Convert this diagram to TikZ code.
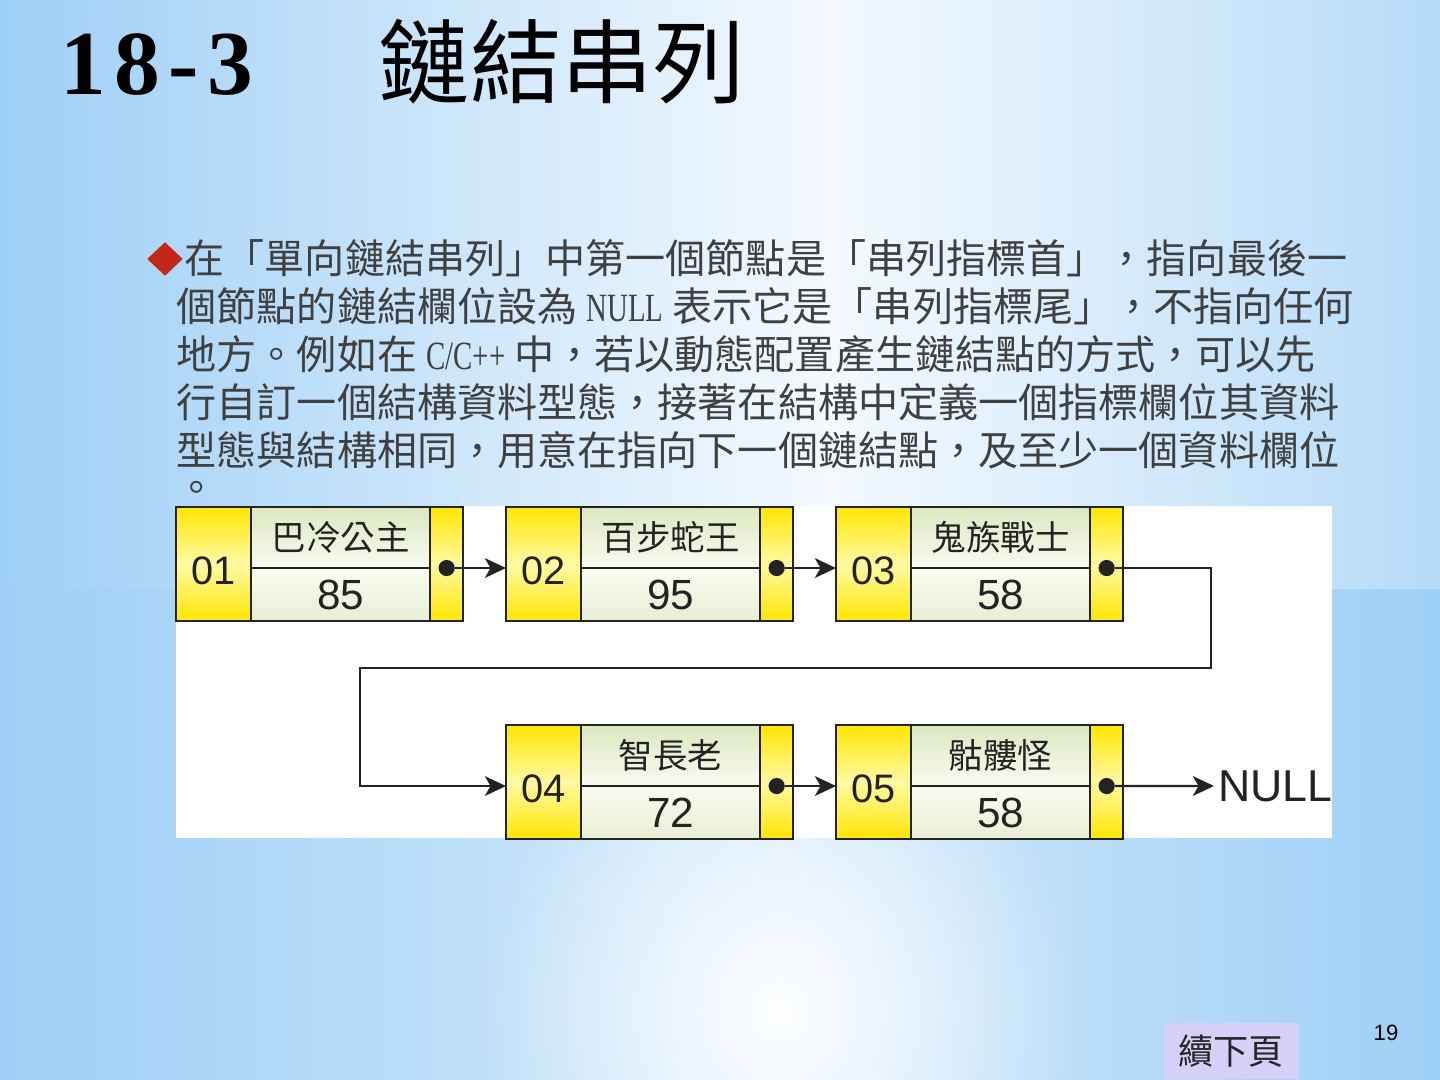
\documentclass[tikz,border=0pt]{standalone}
\usepackage{fontspec}
\setmainfont{Liberation Serif}
\setsansfont{Liberation Sans}
\newfontfamily\cjk{Noto Sans CJK TC}
\newfontfamily\narrowserif[FakeStretch=0.72]{Liberation Serif}
\newfontfamily\titleserif[LetterSpace=9]{Liberation Serif}
\usetikzlibrary{arrows.meta,positioning,shapes.geometric,fadings}
\definecolor{bgblue}{RGB}{158,207,246}
\definecolor{cellyellow}{RGB}{255,230,0}
\definecolor{cellpale}{RGB}{255,249,165}
\definecolor{cellgreen}{RGB}{220,231,192}
\definecolor{cellwhite}{RGB}{249,251,241}
\definecolor{inkgray}{RGB}{35,35,35}
\definecolor{bulletred}{RGB}{196,38,24}
\definecolor{lavender}{RGB}{212,208,248}
\tikzfading[name=glowfade, inner color=transparent!0, outer color=transparent!100]

\begin{document}
\begin{tikzpicture}[
    x=0.01cm, y=-0.01cm,
    cellbase/.style={rectangle, draw=inkgray, line width=0.65pt, outer sep=0pt, inner sep=0pt, text=inkgray, anchor=north west},
    idcell/.style={cellbase, minimum width=0.75cm, minimum height=1.14cm, text height=11.8pt, text depth=0pt, top color=cellyellow, bottom color=cellyellow, middle color=cellpale, font=\sffamily\fontsize{11.3}{13}\selectfont},
    namecell/.style={cellbase, minimum width=1.79cm, minimum height=0.61cm, top color=cellgreen, bottom color=cellwhite, font=\cjk\fontsize{9.8}{12}\selectfont},
    scorecell/.style={cellbase, minimum width=1.79cm, minimum height=0.53cm, top color=cellwhite, bottom color=cellgreen!70, font=\sffamily\fontsize{12}{14}\selectfont},
    ptrcell/.style={cellbase, minimum width=0.33cm, minimum height=1.14cm, top color=cellyellow, bottom color=cellyellow, middle color=cellpale},
    dotmark/.style={circle, fill=inkgray, minimum size=4.6pt, inner sep=0pt, outer sep=0pt},
    link/.style={-{Stealth[length=6pt,width=5.6pt,inset=1.6pt]}, line width=0.65pt, draw=inkgray},
    bodytext/.style={anchor=base west, inner sep=0pt, text=black!75, font=\cjk\fontsize{11.4}{14}\selectfont},
    nulltext/.style={inner sep=1pt, text=inkgray, font=\sffamily\fontsize{12.7}{15}\selectfont}
]

    % --- slide background ---
    \useasboundingbox (0,0) rectangle (1440,1080);
    \fill[bgblue] (0,0) rectangle (1440,1080);
    \shade[left color=bgblue, right color=white!88!bgblue] (0,0) rectangle (830,590);
    \shade[left color=white!88!bgblue, right color=bgblue!75!white] (830,0) rectangle (1440,590);
    \shade[left color=bgblue, right color=bgblue!45!white] (0,590) rectangle (780,1080);
    \shade[left color=bgblue!45!white, right color=bgblue] (780,590) rectangle (1440,1080);
    \fill[white, path fading=glowfade, opacity=0.95] (780,1010) ellipse (300 and 320);

    % --- title ---
    \node[anchor=base west, inner sep=0pt, font=\titleserif\bfseries\fontsize{26}{30}\selectfont] (secnum) at (60,95) {18-3};
    \node[anchor=base west, inner sep=0pt, font=\cjk\fontsize{26}{30}\selectfont] (sectitle) at (378,97) {鏈結串列};

    % --- paragraph ---
    \node[diamond, fill=bulletred, minimum width=0.36cm, minimum height=0.34cm, inner sep=0pt] (bullet) at (165,259) {};
    \node[bodytext] (line1) at (184,274) {在「單向鏈結串列」中第一個節點是「串列指標首」，指向最後一};
    \node[bodytext] (line2) at (176,322) {個節點的鏈結欄位設為 {\narrowserif NULL} 表示它是「串列指標尾」，不指向任何};
    \node[bodytext] (line3) at (176,370) {地方。例如在 {\narrowserif C/C++} 中，若以動態配置產生鏈結點的方式，可以先};
    \node[bodytext] (line4) at (176,418) {行自訂一個結構資料型態，接著在結構中定義一個指標欄位其資料};
    \node[bodytext] (line5) at (176,466) {型態與結構相同，用意在指向下一個鏈結點，及至少一個資料欄位};
    \node[bodytext] (line6) at (176,503) {。};

    % --- linked list ---
    \fill[white] (176,506) rectangle (1332,838);

    \foreach \nodeid/\px/\py/\who/\val in {01/176/507/巴冷公主/85, 02/506/507/百步蛇王/95, 03/836/507/鬼族戰士/58, 04/506/725/智長老/72, 05/836/725/骷髏怪/58} {
        \node[idcell] (id\nodeid) at (\px,\py) {\nodeid};
        \node[namecell] (nm\nodeid) at (id\nodeid.north east) {\who};
        \node[scorecell] (sc\nodeid) at (nm\nodeid.south west) {\val};
        \node[ptrcell] (pt\nodeid) at (nm\nodeid.north east) {};
        \node[dotmark] (dot\nodeid) at (pt\nodeid |- nm\nodeid.south) {};
    }

    \foreach \a/\b in {01/02, 02/03, 04/05} {
        \draw[link] (dot\a) -- (dot\a -| id\b.west);
    }

    % wrap round to the second row
    \coordinate (wrapR) at (1211,668);
    \coordinate (wrapL) at (360,668);
    \draw[link] (dot03) -| (wrapR) -- (wrapL) |- (dot04 -| id04.west);

    \node[nulltext, anchor=west] (nullend) at (1214,786) {NULL};
    \draw[link] (dot05) -- (nullend.west);

    % --- footer ---
    \node[fill=lavender, minimum width=1.35cm, minimum height=0.56cm, inner sep=0pt, anchor=north west, font=\cjk\fontsize{10}{12}\selectfont, text=black!85] (nextpg) at (1163,1022) {續下頁};
    \node[anchor=base, inner sep=0pt, font=\sffamily\fontsize{6.3}{8}\selectfont] (pgnum) at (1386,1040) {19};

\end{tikzpicture}
\end{document}
